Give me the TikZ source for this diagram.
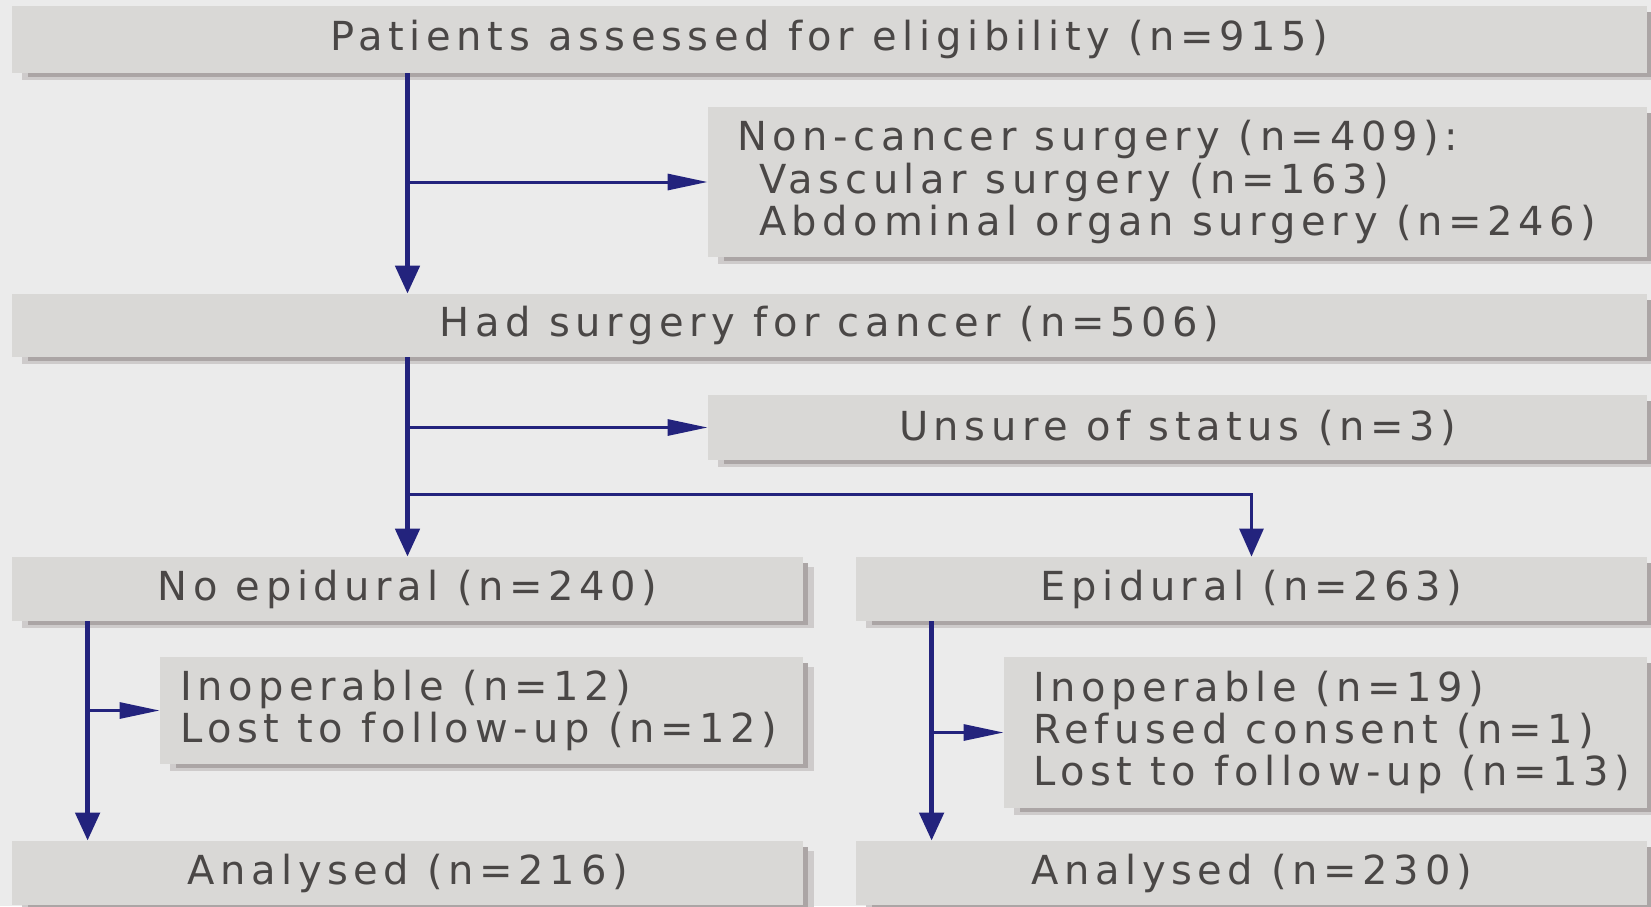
\documentclass[tikz,border=0pt]{standalone}
\usepackage{fontspec}
\setmainfont{DejaVu Sans}[LetterSpace=14]
\usetikzlibrary{arrows.meta,positioning,backgrounds}
\definecolor{bggray}{HTML}{EBEBEB}
\definecolor{boxgray}{HTML}{D9D8D6}
\definecolor{shadowdark}{HTML}{ABA5A5}
\definecolor{shadowlight}{HTML}{CECBCB}
\definecolor{flownavy}{HTML}{23237D}
\definecolor{textgray}{HTML}{4A4746}
\tikzset{
  box/.style={fill=boxgray, text=textgray, inner sep=0pt, font=\fontsize{20}{21.2}\selectfont},
  txt/.style={text=textgray, inner sep=0pt, align=left, font=\fontsize{20}{21.2}\selectfont},
  trunk/.style={draw=flownavy, line width=2.5pt, -{Triangle[length=14pt,width=12pt]}},
  split/.style={draw=flownavy, line width=1.5pt, -{Triangle[length=14pt,width=12pt]}},
  branch/.style={draw=flownavy, line width=1.5pt, -{Triangle[length=20pt,width=8pt]}},
}
\begin{document}
\begin{tikzpicture}[x=0.5pt, y=-0.5pt]
\useasboundingbox (0,0) rectangle (1651,906);

\node[box, minimum width=817.5pt, minimum height=33.5pt] (elig) at (829.5,39.5) {Patients assessed for eligibility (n=915)};
\node[box, minimum width=469.5pt, minimum height=75pt] (noncan) at (1177.5,182) {};
\node[txt, right=14.5pt of noncan.west] (noncanTxt) {Non-cancer surgery (n=409):\\\hspace*{11pt}Vascular surgery (n=163)\\\hspace*{11pt}Abdominal organ surgery (n=246)};
\node[box, minimum width=817.5pt, minimum height=31.5pt] (cancer) at (829.5,325.5) {Had surgery for cancer (n=506)};
\node[box, minimum width=469.5pt, minimum height=32.5pt] (unsure) at (1177.5,427.5) {Unsure of status (n=3)};
\node[box, minimum width=395.5pt, minimum height=32pt] (noepi) at (407.5,589) {No epidural (n=240)};
\node[box, minimum width=395.5pt, minimum height=32pt] (epi) at (1251.5,589) {Epidural (n=263)};
\node[box, minimum width=321.5pt, minimum height=53.5pt] (inopL) at (481.5,710.5) {};
\node[txt, right=10pt of inopL.west] (inopLTxt) {Inoperable (n=12)\\Lost to follow-up (n=12)};
\node[box, minimum width=321.5pt, minimum height=75.5pt] (inopR) at (1325.5,732.5) {};
\node[txt, right=14.5pt of inopR.west] (inopRTxt) {Inoperable (n=19)\\Refused consent (n=1)\\Lost to follow-up (n=13)};
\node[box, minimum width=395.5pt, minimum height=32pt] (anaL) at (407.5,873) {Analysed (n=216)};
\node[box, minimum width=395.5pt, minimum height=32pt] (anaR) at (1251.5,873) {Analysed (n=230)};

\begin{scope}[on background layer]
  \fill[bggray] (0,0) rectangle (1651,906);
  \foreach \b in {elig,noncan,cancer,unsure,noepi,epi,inopL,inopR,anaL,anaR}{
    \fill[shadowlight] ([xshift=5pt,yshift=-5pt]\b.north west) rectangle ([xshift=5.5pt,yshift=-3.5pt]\b.south east);
    \fill[shadowdark] ([xshift=8pt,yshift=-3pt]\b.north west) rectangle ([xshift=2.5pt,yshift=-2pt]\b.south east);
  }
\end{scope}

\draw[trunk] (elig.south -| noepi) -- (cancer.north -| noepi);%first trunk
\draw[branch] (noepi |- noncan.west) -- (noncan.west);
\draw[trunk] (cancer.south -| noepi) -- (noepi.north);%second trunk
\draw[branch] (noepi |- unsure.west) -- (unsure.west);
\coordinate (fork) at ([yshift=31pt]noepi.north);
\draw[split] (fork) -| (epi.north);

\coordinate (legL) at ([xshift=38pt]noepi.south west);
\coordinate (legR) at ([xshift=38pt]epi.south west);
\draw[trunk] (legL) -- (legL |- anaL.north);%left leg
\draw[branch] (legL |- inopL.west) -- (inopL.west);
\draw[trunk] (legR) -- (legR |- anaR.north);%right leg
\draw[branch] (legR |- inopR.west) -- (inopR.west);
\end{tikzpicture}
\end{document}
